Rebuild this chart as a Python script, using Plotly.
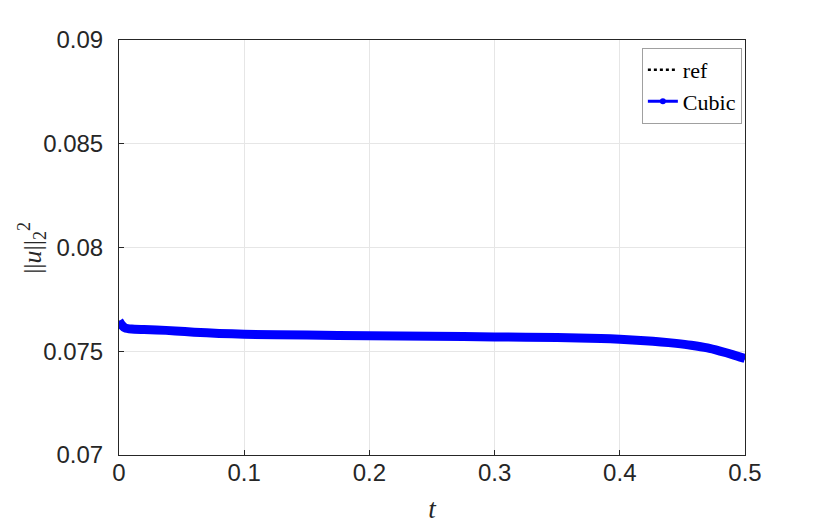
import plotly.graph_objects as go

t_vals = [0, 0.002, 0.005, 0.01, 0.02, 0.03, 0.045, 0.06, 0.08, 0.1, 0.15, 0.2, 0.25,
          0.3, 0.35, 0.385, 0.4, 0.42, 0.433, 0.445, 0.457, 0.47, 0.48, 0.49, 0.5]
norm_vals = [0.07646, 0.07628, 0.07612, 0.07607, 0.07605, 0.07603, 0.07598, 0.07592,
             0.07586, 0.07582, 0.07578, 0.07575, 0.07572, 0.07569, 0.07566, 0.07562,
             0.07558, 0.07551, 0.07545, 0.07538, 0.07529, 0.07516, 0.07501, 0.07484,
             0.07465]
x_ticks = [0, 0.1, 0.2, 0.3, 0.4, 0.5]
x_tick_labels = ["0", "0.1", "0.2", "0.3", "0.4", "0.5"]
y_ticks = [0.07, 0.075, 0.08, 0.085, 0.09]
y_tick_labels = ["0.07", "0.075", "0.08", "0.085", "0.09"]

fig = go.Figure()
fig.add_trace(go.Scatter(x=t_vals, y=norm_vals, name="ref", mode="lines",
                         line=dict(color="black", width=2.5, dash="dot", shape="spline", smoothing=0.5)))
fig.add_trace(go.Scatter(x=t_vals, y=norm_vals, name="Cubic", mode="lines",
                         line=dict(color="#0000ff", width=9, shape="spline", smoothing=0.5),
                         legendgroup="cubic", showlegend=False))
# legend-only entry matching the thinner legend sample of the reference
fig.add_trace(go.Scatter(x=[None], y=[None], name="Cubic", mode="lines+markers",
                         line=dict(color="#0000ff", width=3),
                         marker=dict(size=6, color="#0000ff"),
                         legendgroup="cubic", showlegend=True))

axis_common = dict(showline=True, linecolor="#262626", linewidth=1, mirror=True,
                   ticks="inside", ticklen=5, tickcolor="#262626", automargin=False,
                   showgrid=True, gridcolor="#e6e6e6", gridwidth=1, zeroline=False,
                   tickfont=dict(family="Liberation Sans, Arial", size=24, color="#262626"))

fig.update_layout(
    width=830, height=528,
    margin=dict(l=111, r=93, t=32, b=81),
    paper_bgcolor="white", plot_bgcolor="white",
    xaxis=dict(range=[0, 0.5], tickvals=x_ticks, ticktext=x_tick_labels,
               ticklabelstandoff=-4,
               title=dict(text="<i>t</i>", font=dict(family="Liberation Serif, serif", size=27, color="#262626"), standoff=14),
               **axis_common),
    yaxis=dict(range=[0.07, 0.09], tickvals=y_ticks, ticktext=y_tick_labels,
               ticklabelstandoff=10,
               **axis_common),
    legend=dict(x=0.995, y=0.981, xanchor="right", yanchor="top",
                bgcolor="white", bordercolor="#a0a0a0", borderwidth=1,
                font=dict(family="Liberation Serif, serif", size=22, color="black"),
                itemwidth=30, tracegroupgap=0),
    showlegend=True,
    annotations=[dict(text="||<i>u</i>||<sub>2</sub><sup>2</sup>", xref="paper", yref="paper",
                      x=-0.14, y=0.5, xanchor="center", yanchor="middle", textangle=-90,
                      showarrow=False,
                      font=dict(family="Liberation Serif, serif", size=26, color="#262626"))],
)

fig.write_html("out.html")
